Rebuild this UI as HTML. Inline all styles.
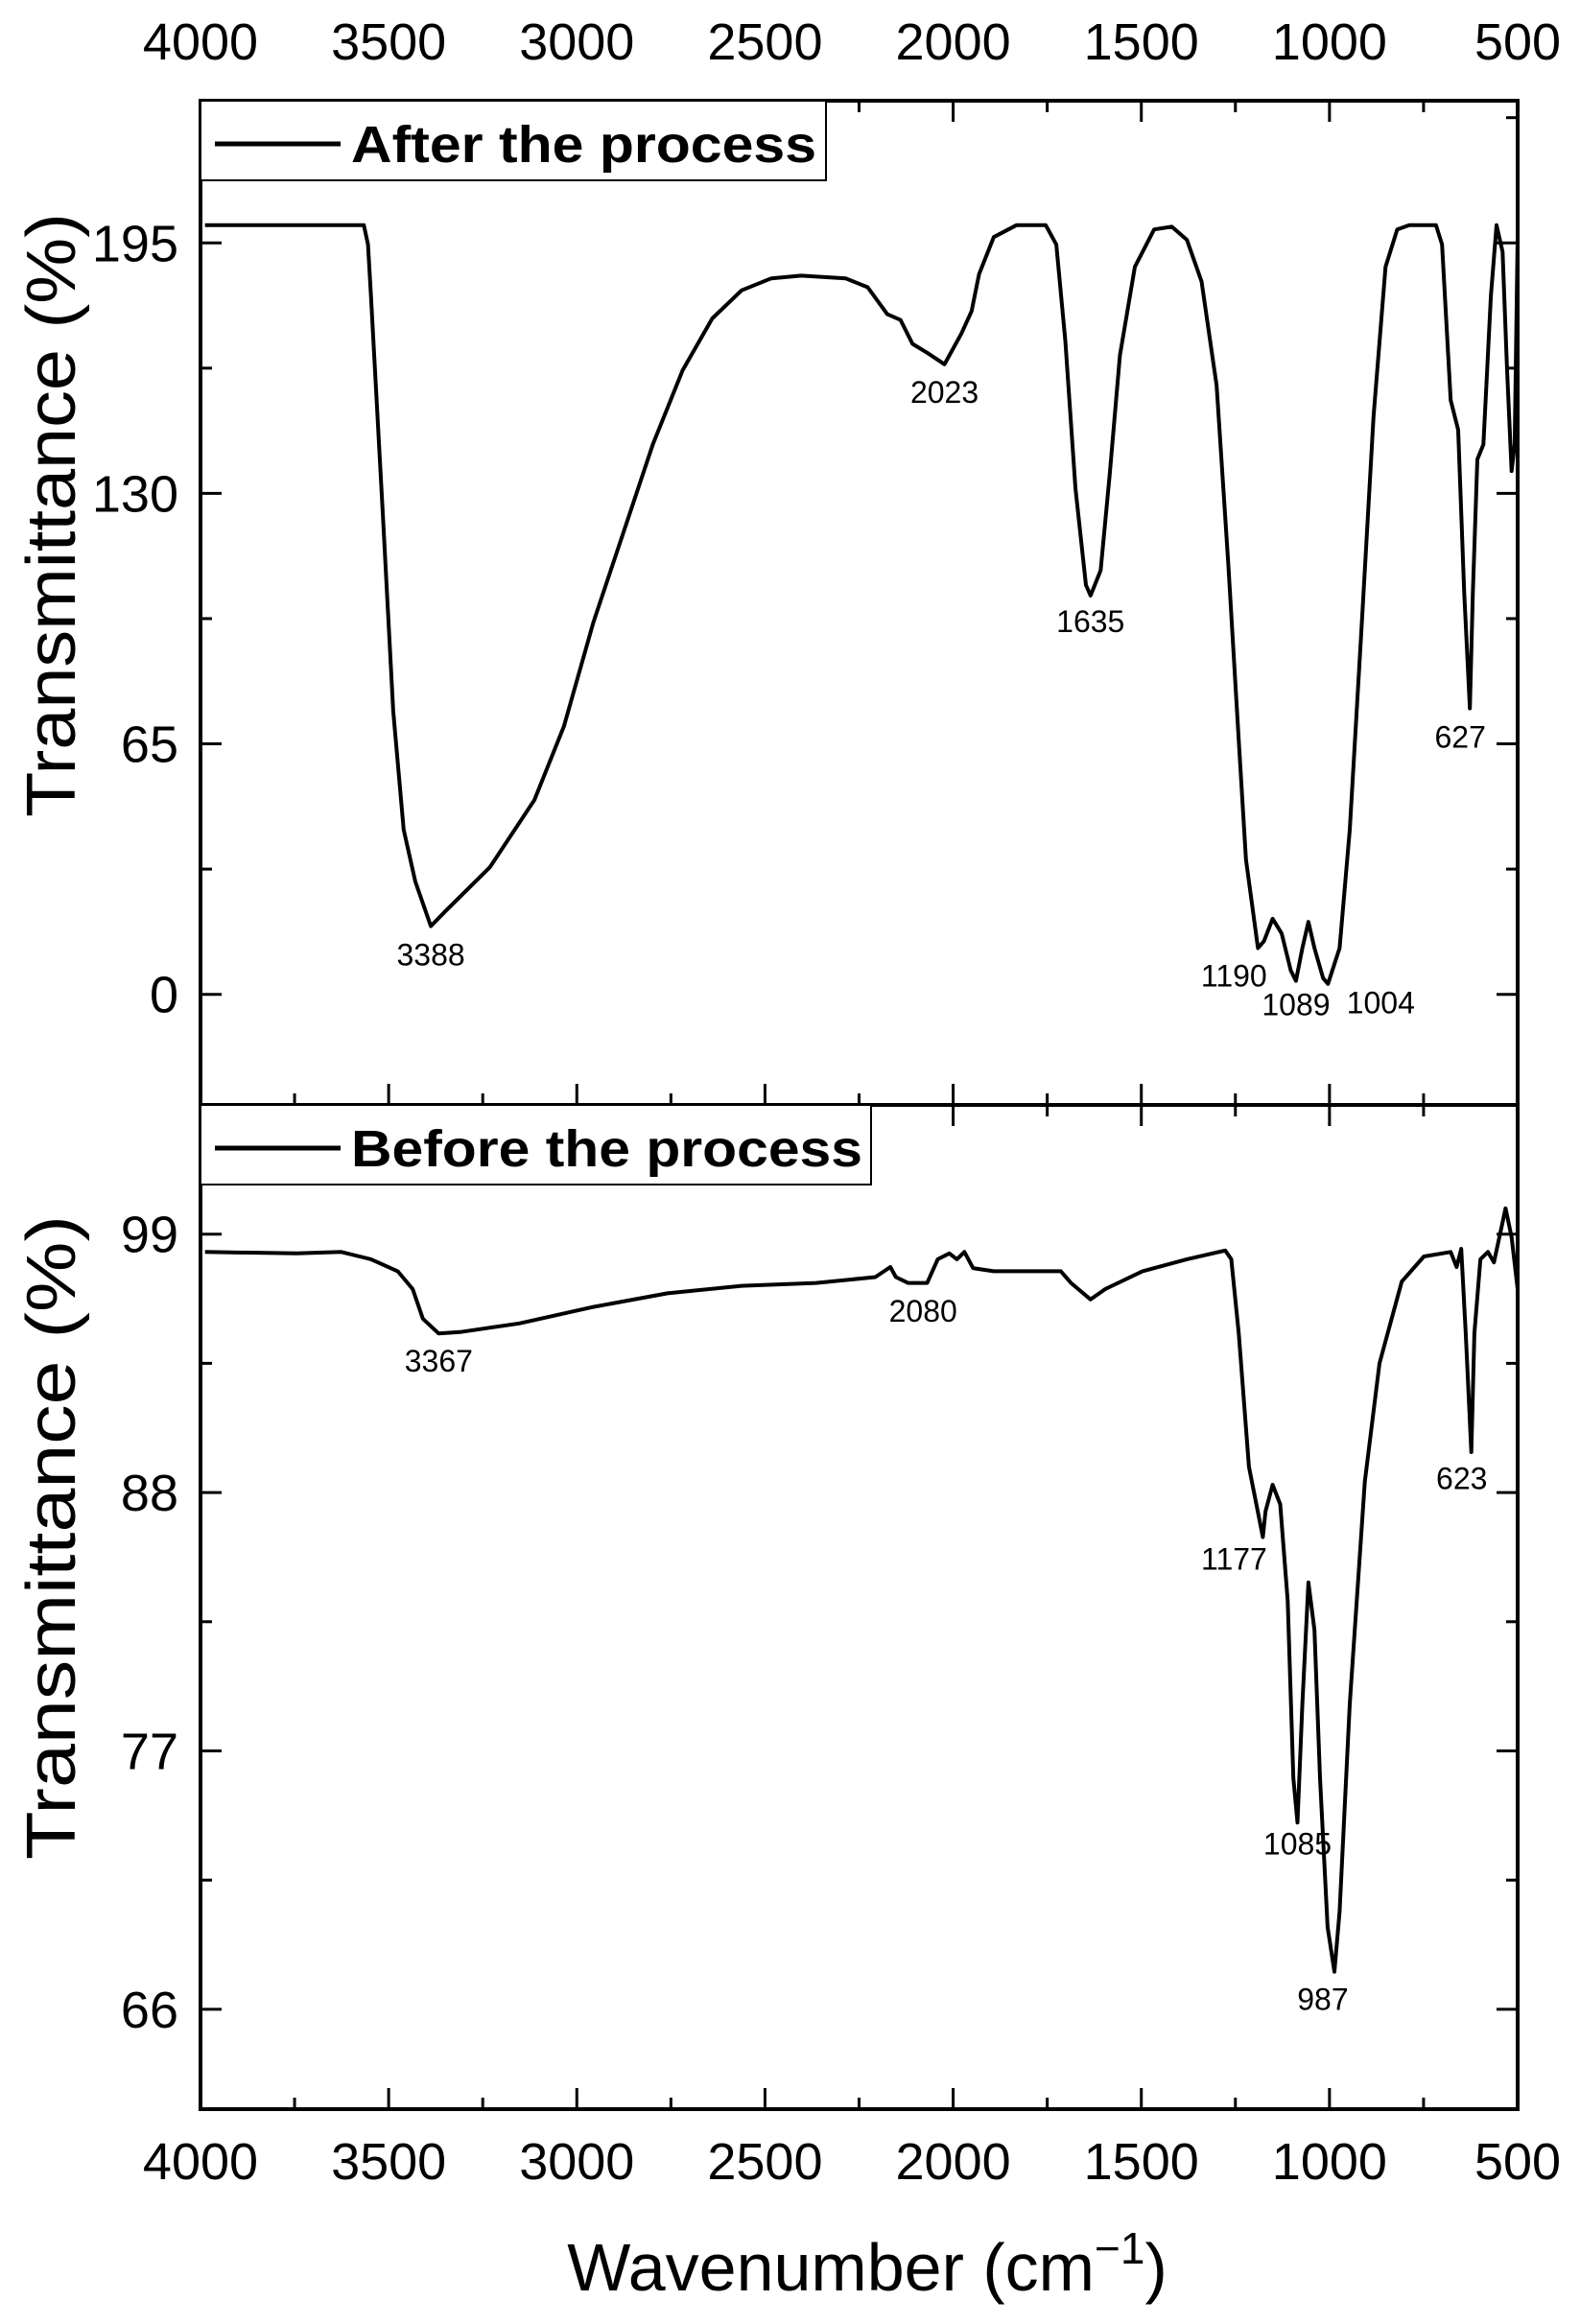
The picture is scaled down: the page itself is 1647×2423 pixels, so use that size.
<!DOCTYPE html>
<html><head><meta charset="utf-8">
<style>
html,body{margin:0;padding:0;background:#fff;}
svg{display:block;}
text{font-family:"Liberation Sans",Arial,sans-serif;fill:#000;}
</style></head>
<body>
<svg id="chart" width="1647" height="2423" viewBox="0 0 1647 2423" xmlns="http://www.w3.org/2000/svg">
<rect x="0" y="0" width="1647" height="2423" fill="#fff"/>
<g id="g"></g>
</svg>
<script>
// ---- data ----
const afterWn = [3988,3566,3555,3547,3515,3488,3460,3429,3388,3350,3231,3113,3034,2956,2877,2798,2719,2640,2562,2483,2404,2286,2227,2175,2140,2108,2069,2023,2010,1978,1951,1931,1892,1832,1754,1726,1702,1675,1647,1635,1608,1584,1557,1517,1466,1419,1379,1340,1300,1269,1241,1222,1190,1174,1151,1127,1103,1089,1072,1056,1040,1017,1004,973,946,914,883,851,820,788,717,701,678,658,642,627,619,607,591,571,556,540,528,516,508,500];
const afterT = [199.6,199.6,194.6,181.2,123.5,73.5,42.7,29.2,17.7,21.5,33,50.4,69.6,96.5,119.6,142.7,161.9,175.4,182.7,185.8,186.5,185.8,183.5,176.5,175,168.8,166.5,163.5,165.8,171.5,177.3,186.9,196.5,199.6,199.6,194.6,169.6,131.2,106.2,103.5,110,135,165.8,188.8,198.5,199.2,195.8,185,158,112,65.8,35,12,13.8,19.6,15.8,6.2,3.5,12,18.8,12,4.2,2.7,12,42.7,96.5,150,188.8,198.5,199.6,199.6,194.6,154.2,146.5,104.2,74.2,104.2,138.8,142.7,181.2,199.6,192.7,161.9,135.8,142.7,196.5];
const beforeWn = [3988,3744,3626,3547,3476,3436,3409,3367,3310,3153,2956,2759,2562,2364,2207,2167,2152,2120,2080,2069,2041,2010,1990,1970,1947,1892,1773,1714,1687,1635,1596,1497,1379,1277,1261,1241,1214,1177,1170,1151,1131,1111,1096,1085,1072,1056,1040,1025,1005,987,973,946,906,867,808,749,678,662,650,638,623,615,599,579,563,544,532,516,500];
const beforeT = [98.24,98.18,98.24,97.93,97.42,96.66,95.4,94.77,94.83,95.2,95.9,96.48,96.8,96.92,97.17,97.6,97.17,96.92,96.92,96.92,97.93,98.18,97.93,98.24,97.55,97.42,97.42,97.42,96.92,96.22,96.66,97.42,97.93,98.3,97.93,94.77,89.1,86.1,87.2,88.33,87.5,83.4,75.84,73.95,79,84.17,82.15,75.84,69.5,67.6,70.16,79,88.46,93.5,96.98,98.05,98.24,97.6,98.37,94.77,89.72,94.77,97.93,98.24,97.8,99.2,100.1,98.87,96.66];
const xTicks = [4000,3500,3000,2500,2000,1500,1000,500];
const afterYTicks = [195,130,65,0];
const beforeYTicks = [99,88,77,66];
const afterLabels = [["3388",3388,14],["2023",2023,163],["1635",1635,101],["1190",1190,8],["1089",1089,2],["1004",1004,2],["627",627,71]];
const afterLabelOff = [[0,26],[0,38],[0,28],[-25,24],[0,30],[55,28],[-10,28]];
const beforeLabels = [["3367",3367,94.7],["2080",2080,96.9],["1177",1177,86.1],["623",623,89.7],["1085",1085,73.9],["987",987,67.6]];
const beforeLabelOff = [[0,38],[0,40],[-30,34],[-10,38],[0,32],[-12,40]];

// ---- layout ----
const L=209,R=1582,T1=105,B1=1152,T2=1152,B2=2199;
const xs = w => L + (4000-w)/3500*(R-L);
const ys1 = v => T1 + (231.9-v)/(231.9+28.7)*(B1-T1);
const ys2 = v => T2 + (104.5-v)/(104.5-61.75)*(B2-T2);
const NS='http://www.w3.org/2000/svg';
const g=document.getElementById('g');
function mk(tag,attrs,parent){const e=document.createElementNS(NS,tag);for(const k in attrs)e.setAttribute(k,attrs[k]);(parent||g).appendChild(e);return e;}

function panel(top,bot,ysf,yTicks,minorStep,wn,tv,labels,offs,legendText,legendW,textW,nm){
  const grp=mk('g',{});
  
  
  const fr=mk('rect',{x:L,y:top,width:R-L,height:bot-top,fill:'none',stroke:'#000','stroke-width':4},grp);
  
  
  for(let w=4000;w>=500;w-=250){
    const major=(w%500===0);const len=major?22:12;const x=xs(w);
    const t=mk('line',{x1:x,x2:x,y1:bot,y2:bot-len,stroke:'#000','stroke-width':3},grp);
    
    
    const t2=mk('line',{x1:x,x2:x,y1:top,y2:top+len,stroke:'#000','stroke-width':3},grp);
    
    
  }
  for(let v=yTicks[yTicks.length-1]-minorStep*4;v<=yTicks[0]+minorStep*4;v+=minorStep){
    const y=ysf(v); if(y<top+3||y>bot-3) continue;
    const major=yTicks.some(t=>Math.abs(t-v)<1e-6);const len=major?22:12;
    const a=mk('line',{x1:L,x2:L+len,y1:y,y2:y,stroke:'#000','stroke-width':3},grp);
    
    
    const b=mk('line',{x1:R,x2:R-len,y1:y,y2:y,stroke:'#000','stroke-width':3},grp);
    
    
  }
  yTicks.forEach(v=>{
    const t=mk('text',{x:186,y:ysf(v)+19,'font-size':54,'text-anchor':'end'},grp);
    t.textContent=v;
    
    
  });
  const lb=mk('rect',{x:L,y:top,width:legendW,height:83,fill:'#fff',stroke:'#000','stroke-width':2},grp);
  
  
  const ll=mk('line',{x1:224,x2:355,y1:top+45,y2:top+45,stroke:'#000','stroke-width':5},grp);
  
  
  const lt=mk('text',{x:366,y:top+64,'font-size':54,'font-weight':'bold',textLength:textW,lengthAdjust:'spacingAndGlyphs'},grp);
  lt.textContent=legendText;
  
  
  const d=wn.map((w,i)=>(i?'L':'M')+xs(w).toFixed(1)+','+ysf(tv[i]).toFixed(1)).join(' ');
  const p=mk('path',{d:d,fill:'none',stroke:'#000','stroke-width':4,'stroke-linejoin':'round'},grp);
  
  
  labels.forEach((lab,i)=>{
    const t=mk('text',{x:xs(lab[1])+offs[i][0],y:ysf(lab[2])+offs[i][1],'font-size':32,'text-anchor':'middle'},grp);
    t.textContent=lab[0];
    
    
  });
}
panel(T1,B1,ys1,afterYTicks,32.5,afterWn,afterT,afterLabels,afterLabelOff,'After the process',652,485,'after');
panel(T2,B2,ys2,beforeYTicks,5.5,beforeWn,beforeT,beforeLabels,beforeLabelOff,'Before the process',699,533,'before');

xTicks.forEach(w=>{
  const a=mk('text',{x:xs(w),y:62,'font-size':54,'text-anchor':'middle'});
  a.textContent=w;
  
  
  const b=mk('text',{x:xs(w),y:2272,'font-size':54,'text-anchor':'middle'});
  b.textContent=w;
  
  
});
const xt=mk('text',{x:904,y:2388,'font-size':70,'text-anchor':'middle'});
xt.innerHTML='Wavenumber (cm<tspan dy="-28" font-size="46">−1</tspan><tspan dy="28">)</tspan>';


[[537],[1603]].forEach((c,i)=>{
  const t=mk('text',{x:0,y:0,'font-size':72,'text-anchor':'middle',textLength:(i?672:630),lengthAdjust:'spacingAndGlyphs',transform:'translate(78,'+c[0]+') rotate(-90)'});
  t.textContent='Transmittance (%)';
  
  
});
</script>
</body></html>
